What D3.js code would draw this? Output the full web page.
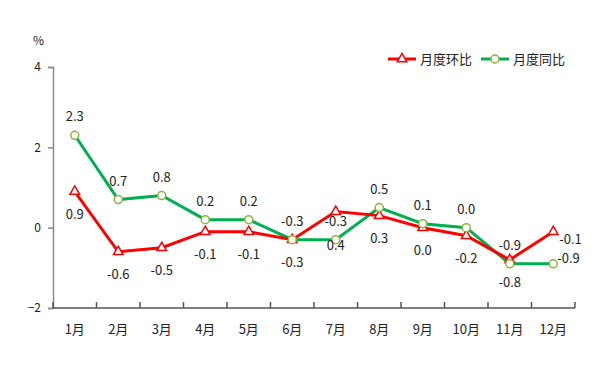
<!DOCTYPE html>
<html>
<head>
<meta charset="utf-8">
<script src="https://cdn.jsdelivr.net/npm/d3@7"></script>
<style>
  body { margin: 0; background: #fff; }
  text { font-family: "Noto Sans CJK SC", "Noto Sans", sans-serif; fill: #222; }
</style>
</head>
<body>
<svg id="chart" width="600" height="384"></svg>
<script>
var months = ["1月","2月","3月","4月","5月","6月","7月","8月","9月","10月","11月","12月"];
var mom = [0.9, -0.6, -0.5, -0.1, -0.1, -0.3, 0.4, 0.3, 0.0, -0.2, -0.8, -0.1];
var yoy = [2.3, 0.7, 0.8, 0.2, 0.2, -0.3, -0.3, 0.5, 0.1, 0.0, -0.9, -0.9];
// labels as printed on the picture (some are swapped in the original)
var momLabels = ["0.9","-0.6","-0.5","-0.1","-0.1","-0.3","0.4","0.3","0.0","-0.2","-0.8","-0.1"];
var yoyLabels = ["2.3","0.7","0.8","0.2","0.2","-0.3","-0.3","0.5","0.1","0.0","-0.9","-0.9"];
var yTicks = [-2, 0, 2, 4];
var seriesNames = ["月度环比", "月度同比"];

var margin = { top: 67, right: 25, bottom: 76, left: 53 },
    w = 600 - margin.left - margin.right,
    h = 384 - margin.top - margin.bottom;

var svg = d3.select("#chart");
var g = svg.append("g").attr("transform", `translate(${margin.left},${margin.top})`);

var x = d3.scaleBand().domain(months).range([0, w]);
var y = d3.scaleLinear().domain([-2, 4]).range([h, 0]);
var cx = function (d, i) { return x(months[i]) + x.bandwidth() / 2; };

// y axis
var yAxis = g.append("g")
  .call(d3.axisLeft(y).tickValues(yTicks).tickFormat(d3.format("d")).tickSize(5).tickPadding(7));
yAxis.select(".domain").attr("stroke", "#8c8c8c").attr("stroke-width", 1.5);
yAxis.selectAll(".tick line").attr("stroke", "#8c8c8c").attr("stroke-width", 1.5);
yAxis.selectAll(".tick text").style("font-size", "12px").attr("fill", "#222");

svg.append("text").attr("x", 44).attr("y", 45).attr("text-anchor", "end")
  .style("font-size", "12px").text("%");

// x axis with ticks at band edges, pointing up
var xg = g.append("g").attr("transform", `translate(0,${h})`);
xg.append("line").attr("x1", 0).attr("x2", w).attr("stroke", "#555").attr("stroke-width", 1.5);
xg.selectAll(".xt").data(d3.range(months.length + 1)).join("line")
  .attr("class", "xt")
  .attr("x1", function (d) { return d * x.step(); })
  .attr("x2", function (d) { return d * x.step(); })
  .attr("y1", 0).attr("y2", -6)
  .attr("stroke", "#555").attr("stroke-width", 1.5);
xg.selectAll(".xl").data(months).join("text")
  .attr("class", "xl")
  .attr("x", function (d) { return x(d) + x.bandwidth() / 2; })
  .attr("y", 26)
  .attr("text-anchor", "middle")
  .style("font-size", "13px")
  .text(function (d) { return d; });

var line = d3.line().x(cx).y(function (d) { return y(d); });

// green series
g.append("path").datum(yoy).attr("d", line)
  .attr("fill", "none").attr("stroke", "#00b050").attr("stroke-width", 3);
// red series
g.append("path").datum(mom).attr("d", line)
  .attr("fill", "none").attr("stroke", "#ff0000").attr("stroke-width", 3);

var tri = d3.symbol().type(d3.symbolTriangle).size(40);
g.selectAll(".mt").data(mom).join("path")
  .attr("class", "mt")
  .attr("d", tri)
  .attr("transform", function (d, i) { return `translate(${cx(d, i)},${y(d)})`; })
  .attr("fill", "#fff").attr("stroke", "#ff0000").attr("stroke-width", 1.5);

g.selectAll(".yc").data(yoy).join("circle")
  .attr("class", "yc")
  .attr("cx", cx).attr("cy", function (d) { return y(d); })
  .attr("r", 4)
  .attr("fill", "#fff").attr("stroke", "#8db33d").attr("stroke-width", 1.5);

// data labels
var last = months.length - 1;
g.selectAll(".ml").data(mom).join("text")
  .attr("class", "ml")
  .attr("x", function (d, i) { return i === last ? cx(d, i) + 6 : cx(d, i); })
  .attr("y", function (d, i) {
    if (i === last) return y(d) + 12;
    if (i === 6) return y(d) + 38; // pushed below the green point
    return y(d) + 27;
  })
  .attr("text-anchor", function (d, i) { return i === last ? "start" : "middle"; })
  .style("font-size", "13px")
  .text(function (d, i) { return momLabels[i]; });

g.selectAll(".yl").data(yoy).join("text")
  .attr("class", "yl")
  .attr("x", function (d, i) { return i === last ? cx(d, i) + 4 : cx(d, i); })
  .attr("y", function (d, i) { return i === last ? y(d) - 1 : y(d) - 14; })
  .attr("text-anchor", function (d, i) { return i === last ? "start" : "middle"; })
  .style("font-size", "13px")
  .text(function (d, i) { return yoyLabels[i]; });

// legend
var legend = svg.append("g").attr("transform", "translate(388,59)");
var leg = legend.selectAll("g").data(seriesNames).join("g")
  .attr("transform", function (d, i) { return `translate(${i * 93},0)`; });
leg.append("line").attr("x1", 0).attr("x2", 28).attr("y1", 0).attr("y2", 0)
  .attr("stroke", function (d, i) { return i === 0 ? "#ff0000" : "#00b050"; })
  .attr("stroke-width", 3);
leg.filter(function (d, i) { return i === 0; }).append("path")
  .attr("d", tri).attr("transform", "translate(14,0)")
  .attr("fill", "#fff").attr("stroke", "#ff0000").attr("stroke-width", 1.5);
leg.filter(function (d, i) { return i === 1; }).append("circle")
  .attr("cx", 14).attr("r", 4)
  .attr("fill", "#fff").attr("stroke", "#8db33d").attr("stroke-width", 1.5);
leg.append("text").attr("x", 32).attr("y", 5)
  .style("font-size", "13px")
  .text(function (d) { return d; });
</script>
</body>
</html>
